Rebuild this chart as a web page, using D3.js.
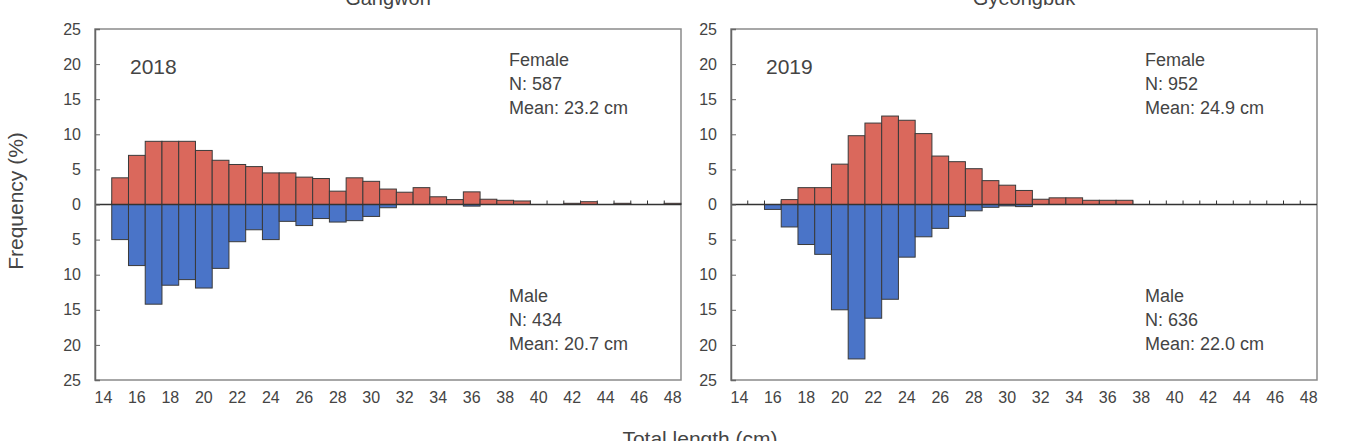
<!DOCTYPE html>
<html>
<head>
  <meta charset="UTF-8">
  <title>Length frequency by sex</title>
  <style>
    body { margin: 0; background: #fff; }
    text { font-family: "Liberation Sans", Arial, sans-serif; fill: #444; }
  </style>
</head>
<body>
<svg id="chart" width="1351" height="441"></svg>

<script src="https://d3js.org/d3.v7.min.js"></script>
<script>

// total length classes (cm)
let lengths = d3.range(14, 49);
let tickLabels = [14, 16, 18, 20, 22, 24, 26, 28, 30, 32, 34, 36, 38, 40, 42, 44, 46, 48];
let yTicks = [-25, -20, -15, -10, -5, 0, 5, 10, 15, 20, 25];

// Gangwon 2018, frequency (%) per length class 14..48
let gangwonFemale = [0, 3.8, 7.0, 9.0, 9.0, 9.0, 7.7, 6.3, 5.7, 5.4, 4.5, 4.5, 3.9, 3.7, 1.9, 3.8, 3.3, 2.2,
    1.75, 2.4, 1.1, 0.7, 1.8, 0.75, 0.6, 0.5, 0, 0, 0.17, 0.4, 0, 0.17, 0, 0, 0.17];
let gangwonMale = [0, 5.0, 8.7, 14.2, 11.5, 10.7, 11.9, 9.1, 5.3, 3.6, 5.0, 2.4, 3.0, 2.0, 2.5, 2.3, 1.7, 0.46,
    0, 0, 0, 0, 0.23, 0, 0, 0, 0, 0, 0, 0, 0, 0, 0, 0, 0];

// Gyeongbuk 2019
let gyeongbukFemale = [0, 0, 0, 0.7, 2.4, 2.4, 5.75, 9.8, 11.6, 12.6, 12.0, 10.1, 6.9, 6.1, 5.1, 3.4, 2.75, 2.0,
    0.75, 0.95, 0.95, 0.6, 0.6, 0.6, 0, 0, 0, 0, 0, 0, 0, 0, 0, 0, 0];
let gyeongbukMale = [0, 0, 0.7, 3.2, 5.7, 7.1, 15.0, 22.0, 16.2, 13.5, 7.5, 4.6, 3.4, 1.7, 0.9, 0.4, 0.2, 0.3,
    0, 0, 0, 0, 0, 0, 0, 0, 0, 0, 0, 0, 0, 0, 0, 0, 0];

let panels = [
  { title: "Gangwon", year: "2018", female: gangwonFemale, male: gangwonMale,
    fLabel: ["Female", "N: 587", "Mean: 23.2 cm"], mLabel: ["Male", "N: 434", "Mean: 20.7 cm"], x0: 95 },
  { title: "Gyeongbuk", year: "2019", female: gyeongbukFemale, male: gyeongbukMale,
    fLabel: ["Female", "N: 952", "Mean: 24.9 cm"], mLabel: ["Male", "N: 636", "Mean: 22.0 cm"], x0: 731 }
];

let plotW = 586, plotTop = 29, plotBottom = 380;
let red = "#da685c", blue = "#4a74c8";

let svg = d3.select("#chart");

let y = d3.scaleLinear().domain([-25, 25]).range([plotBottom, plotTop]);

panels.forEach(p => {
  let x = d3.scaleBand().domain(lengths).range([p.x0, p.x0 + plotW]).padding(0);
  let g = svg.append("g");

  // plot frame
  g.append("rect")
    .attr("x", p.x0).attr("y", plotTop)
    .attr("width", plotW).attr("height", plotBottom - plotTop)
    .attr("fill", "none").attr("stroke", "#8a8a8a").attr("stroke-width", 1.5);

  // small category ticks on the zero line
  g.append("g").selectAll("line")
    .data(lengths.slice(1))
    .join("line")
    .attr("x1", d => x(d)).attr("x2", d => x(d))
    .attr("y1", y(0)).attr("y2", y(0) - 4)
    .attr("stroke", "#333").attr("stroke-width", 1);

  // female bars (up)
  g.append("g").selectAll("rect")
    .data(lengths.map((d, i) => ({ len: d, v: p.female[i] })).filter(d => d.v > 0))
    .join("rect")
    .attr("x", d => x(d.len)).attr("width", x.bandwidth())
    .attr("y", d => y(d.v)).attr("height", d => y(0) - y(d.v))
    .attr("fill", red).attr("stroke", "#3a3a3a").attr("stroke-width", 1);

  // male bars (down)
  g.append("g").selectAll("rect")
    .data(lengths.map((d, i) => ({ len: d, v: p.male[i] })).filter(d => d.v > 0))
    .join("rect")
    .attr("x", d => x(d.len)).attr("width", x.bandwidth())
    .attr("y", y(0)).attr("height", d => y(-d.v) - y(0))
    .attr("fill", blue).attr("stroke", "#3a3a3a").attr("stroke-width", 1);

  // zero line
  g.append("line")
    .attr("x1", p.x0).attr("x2", p.x0 + plotW)
    .attr("y1", y(0)).attr("y2", y(0))
    .attr("stroke", "#333").attr("stroke-width", 1.5);

  // y axis
  let yAxis = g.append("g")
    .attr("transform", "translate(" + p.x0 + ",0)")
    .call(d3.axisLeft(y).tickValues(yTicks).tickSize(-5).tickPadding(14).tickFormat(d => Math.abs(d)));
  yAxis.select(".domain").attr("stroke", "#666").attr("stroke-width", 1.5);
  yAxis.selectAll(".tick line").attr("stroke", "#666");
  yAxis.selectAll("text").style("font-size", "16px").attr("fill", "#444");

  // x axis labels
  let xAxis = g.append("g")
    .attr("transform", "translate(0," + plotBottom + ")")
    .call(d3.axisBottom(x).tickValues(tickLabels).tickSize(0).tickPadding(12));
  xAxis.select(".domain").remove();
  xAxis.selectAll("text").style("font-size", "16px").attr("fill", "#444");

  // panel title
  g.append("text")
    .attr("x", p.x0 + plotW / 2).attr("y", 5)
    .attr("text-anchor", "middle")
    .style("font-size", "20px")
    .text(p.title);

  // year
  g.append("text")
    .attr("x", p.x0 + 35).attr("y", 74)
    .style("font-size", "21px")
    .text(p.year);

  // sex summaries
  g.append("g").selectAll("text")
    .data(p.fLabel)
    .join("text")
    .attr("x", p.x0 + 414).attr("y", (d, i) => 66 + i * 24)
    .style("font-size", "18px")
    .text(d => d);

  g.append("g").selectAll("text")
    .data(p.mLabel)
    .join("text")
    .attr("x", p.x0 + 414).attr("y", (d, i) => 302 + i * 24)
    .style("font-size", "18px")
    .text(d => d);
});

// shared axis titles
svg.append("text")
  .attr("transform", "translate(23,201) rotate(-90)")
  .attr("text-anchor", "middle")
  .style("font-size", "21px")
  .text("Frequency (%)");

svg.append("text")
  .attr("x", 700).attr("y", 446)
  .attr("text-anchor", "middle")
  .style("font-size", "21px")
  .text("Total length (cm)");

</script>
</body>
</html>
